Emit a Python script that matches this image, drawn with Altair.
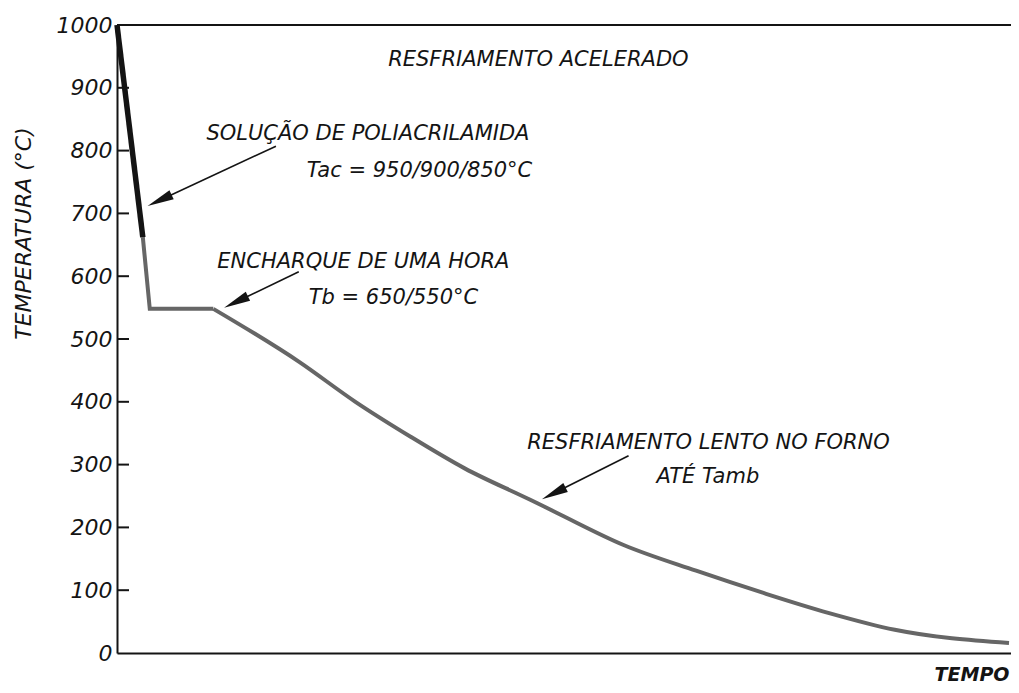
import math
import altair as alt
import pandas as pd

# ---- data ----
# accelerated cooling (black, thick)
acc_x = [0, 26]
acc_t = [1000, 662]
# end of quench + one-hour soak (grey)
soak_x = [26, 33, 97]
soak_t = [662, 548, 548]
# slow furnace cooling (grey)
slow_x = [97, 183, 240, 296, 350, 416, 443, 510, 583, 650, 716, 783, 898]
slow_t = [548, 464, 400, 344, 294, 244, 223, 172, 131, 96, 64, 37, 16]

y_tick_values = [0, 100, 200, 300, 400, 500, 600, 700, 800, 900, 1000]
inner_ticks = [100, 200, 300, 400, 500, 600, 700, 800, 900]

label_text = [
    "RESFRIAMENTO ACELERADO",
    "SOLUÇÃO DE POLIACRILAMIDA",
    "Tac = 950/900/850°C",
    "ENCHARQUE DE UMA HORA",
    "Tb = 650/550°C",
    "RESFRIAMENTO LENTO NO FORNO",
    "ATÉ Tamb",
]
label_x = [273, 90, 191, 101, 193, 413, 543]
label_t = [944, 826, 768, 623, 565, 334, 280]

arrow_x0 = [160, 183, 515]
arrow_t0 = [807, 607, 314]
arrow_x1 = [31, 108, 428]
arrow_t1 = [712, 550, 245]

# ---- layout ----
W, H = 894, 628
X_MAX, T_MAX = 900, 1000
kx = W / X_MAX
ky = H / T_MAX
INK = "#141414"
GREY = "#666666"
FONT = "DejaVu Sans"

xs = alt.Scale(domain=[0, X_MAX], nice=False, zero=False)
ys = alt.Scale(domain=[0, T_MAX], nice=False)

acc_df = pd.DataFrame({"x": acc_x, "t": acc_t})
soak_df = pd.DataFrame({"x": soak_x, "t": soak_t})
slow_df = pd.DataFrame({"x": slow_x, "t": slow_t})
ticks_df = pd.DataFrame({"t": inner_ticks})
labels_df = pd.DataFrame({"txt": label_text, "x": label_x, "t": label_t})

# arrows: line + head, derived from the arrow data
rows_line, rows_head = [], []
for x0, t0, x1, t1 in zip(arrow_x0, arrow_t0, arrow_x1, arrow_t1):
    dx = (x1 - x0) * kx
    dy = -(t1 - t0) * ky
    L = math.hypot(dx, dy)
    ux, uy = dx / L, dy / L
    ang = math.degrees(math.atan2(ux, -uy)) % 360
    rows_line.append({"x": x0, "t": t0,
                      "x2": x1 - 18 * ux / kx, "t2": t1 + 18 * uy / ky})
    rows_head.append({"x": x1 - 13 * ux / kx, "t": t1 + 13 * uy / ky, "ang": ang})
aline_df = pd.DataFrame(rows_line)
ahead_df = pd.DataFrame(rows_head)

y_axis = alt.Axis(
    values=y_tick_values, ticks=False, grid=False, format="d",
    labelFont=FONT, labelFontStyle="italic", labelFontSize=22, labelColor=INK,
    labelPadding=5, domainColor=INK, domainWidth=2,
    title="TEMPERATURA (°C)", titleFont=FONT, titleFontStyle="italic",
    titleFontWeight="normal", titleFontSize=22, titleColor=INK,
    titleAngle=270, titleX=-94, titleY=208, titleAlign="center",
    titleBaseline="middle",
)
x_axis = alt.Axis(
    labels=False, ticks=False, grid=False, domainColor=INK, domainWidth=2,
    title="TEMPO", titleFont=FONT, titleFontStyle="italic", titleFontWeight="bold",
    titleFontSize=19, titleColor=INK, titleX=W - 2, titleY=21,
    titleAlign="right", titleBaseline="middle",
)


def X(field="x"):
    return alt.X(f"{field}:Q", scale=xs, axis=x_axis)


def Y(field="t"):
    return alt.Y(f"{field}:Q", scale=ys, axis=y_axis)


soak = alt.Chart(soak_df).mark_line(color=GREY, strokeWidth=4, strokeJoin="miter").encode(
    x=X(), y=Y(),
)
slow = alt.Chart(slow_df).mark_line(color=GREY, strokeWidth=4, interpolate="monotone").encode(
    x=X(), y=Y(),
)
acc = alt.Chart(acc_df).mark_line(color=INK, strokeWidth=5.5, strokeCap="butt").encode(
    x=X(), y=Y(),
)
top_line = alt.Chart(pd.DataFrame({"a": [0]})).mark_rule(color=INK, strokeWidth=2).encode(
    x=alt.datum(0), x2=alt.datum(X_MAX),
    y=alt.datum(T_MAX),
)
ticks = alt.Chart(ticks_df).mark_rule(color=INK, strokeWidth=2).encode(
    x=alt.value(0), x2=alt.value(12),
    y=Y(),
)
arrow_lines = alt.Chart(aline_df).mark_rule(color=INK, strokeWidth=1.6).encode(
    x=X(), y=Y(), x2="x2:Q", y2="t2:Q",
)
arrow_heads = alt.Chart(ahead_df).mark_point(
    shape="M0,-1L0.38,1L-0.38,1Z", filled=True, color=INK, opacity=1, size=700,
).encode(
    x=X(), y=Y(),
    angle=alt.Angle("ang:Q", scale=None),
)
labels = alt.Chart(labels_df).mark_text(
    align="left", baseline="middle", font=FONT, fontStyle="italic",
    fontSize=21, color=INK,
).encode(
    x=X(), y=Y(),
    text="txt:N",
)

chart = alt.layer(
    soak, slow, acc, top_line, ticks, arrow_lines, arrow_heads, labels
).properties(
    width=W, height=H,
    autosize=alt.AutoSizeParams(type="none"),
    padding={"left": 109, "top": 17, "right": 0, "bottom": 32},
).configure_view(stroke=None).configure(background="white")

chart.save("out.html", embed_options={"renderer": "svg", "actions": False})
